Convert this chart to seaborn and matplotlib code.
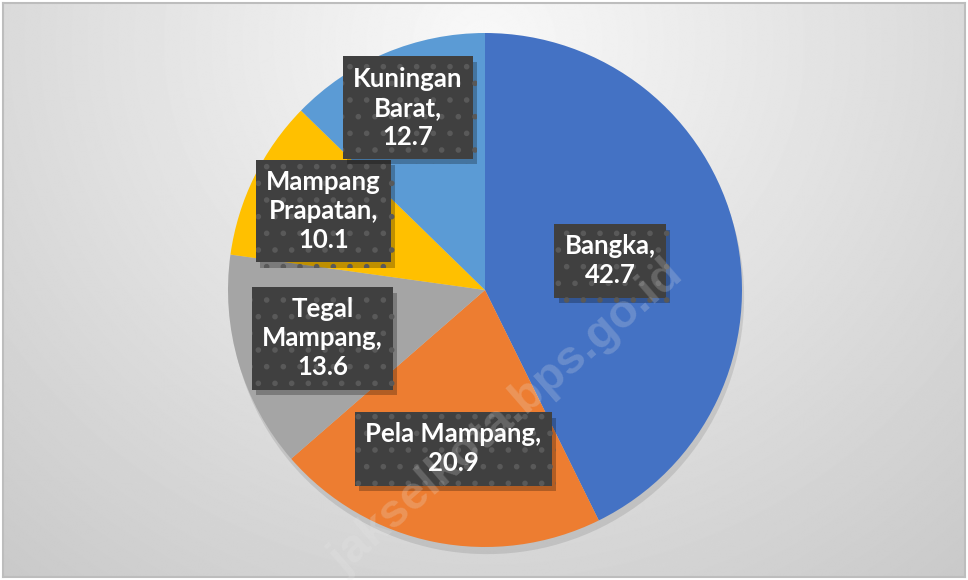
import numpy as np
import seaborn as sns
import matplotlib.pyplot as plt
import matplotlib.patheffects as pe

# Data
categories = ['Bangka', 'Pela Mampang', 'Tegal Mampang', 'Mampang Prapatan', 'Kuningan Barat']
values = [42.7, 20.9, 13.6, 10.1, 12.7]
label_texts = ['Bangka,\n42.7', 'Pela Mampang,\n20.9', 'Tegal\nMampang,\n13.6',
               'Mampang\nPrapatan,\n10.1', 'Kuningan\nBarat,\n12.7']
colors = ['#4472C4', '#ED7D31', '#A5A5A5', '#FFC000', '#5B9BD5']

sns.set_theme(style='white')
plt.rcParams['font.family'] = ['Lato', 'DejaVu Sans']
plt.rcParams['hatch.linewidth'] = 1.6

W, H = 968, 580
fig = plt.figure(figsize=(W / 100, H / 100), dpi=100, facecolor='white')

# background gradient
bg = fig.add_axes([3 / W, 3 / H, (W - 6) / W, (H - 6) / H])
yy, xx = np.mgrid[0:H, 0:W]
r = np.sqrt(((xx - 484) / 760.0) ** 2 + ((yy - 40) / 720.0) ** 2)
grad = 0.975 - 0.19 * np.clip(r, 0, 1.2)
bg.imshow(grad, cmap='gray', vmin=0, vmax=1, aspect='auto', extent=[0, 1, 0, 1])
bg.set_xticks([])
bg.set_yticks([])
for s in bg.spines.values():
    s.set_color('#bdbdbd')
    s.set_linewidth(1.5)

# pie
R = 257
ax = fig.add_axes([(485 - R) / W, (H - 290 - R) / H, 2 * R / W, 2 * R / H])
ax.set_facecolor('none')
wedges, _ = ax.pie(values, colors=sns.color_palette(colors), startangle=90, counterclock=False,
                   radius=1.0, wedgeprops=dict(linewidth=0),
                   shadow=dict(ox=0.006, oy=-0.02, shade=0.0, alpha=0.10, color='black'))
ax.set_xlim(-1, 1)
ax.set_ylim(-1, 1)
ax.set_aspect('equal')

# watermark
fig.text(507 / W, 1 - 417 / H, 'jakselkota.bps.go.id', rotation=41, fontsize=34,
         fontweight='bold', family='Liberation Sans', color='#e8e8e8', alpha=0.22,
         ha='center', va='center', zorder=5)

# data labels
label_dist = [0.50, 0.63, 0.66, 0.70, 0.77]
box_fx = [pe.SimplePatchShadow(offset=(3, -4), shadow_rgbFace='black', alpha=0.25), pe.Normal()]
for w, txt, d in zip(wedges, label_texts, label_dist):
    ang = np.deg2rad((w.theta1 + w.theta2) / 2)
    x, y = d * np.cos(ang), d * np.sin(ang)
    ax.text(x, y, txt, ha='center', va='center', fontsize=18.5, fontweight='bold',
            color='white', linespacing=1.25, zorder=10,
            bbox=dict(boxstyle='square,pad=0.4', facecolor='#404040', edgecolor='#595959',
                      hatch='.', linewidth=0, path_effects=box_fx))

fig.savefig('out.png', dpi=100, facecolor=fig.get_facecolor())
